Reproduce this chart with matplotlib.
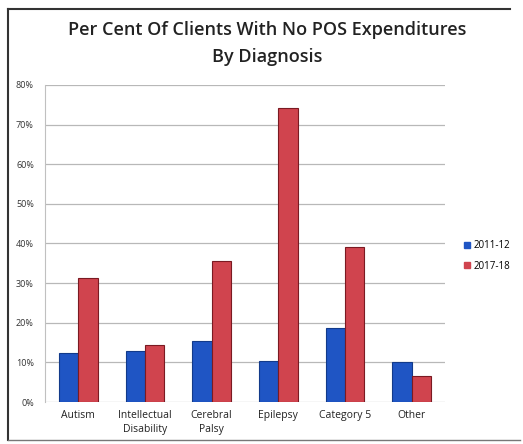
import numpy as np
import matplotlib
matplotlib.use('Agg')
import matplotlib.pyplot as plt
from matplotlib.ticker import PercentFormatter
from matplotlib.lines import Line2D

categories = ['Autism', 'Intellectual\nDisability', 'Cerebral\nPalsy', 'Epilepsy', 'Category 5', 'Other']
series_names = ['2011-12', '2017-18']
vals_2011 = [12.4, 12.9, 15.5, 10.4, 18.8, 10.0]
vals_2017 = [31.2, 14.3, 35.6, 74.3, 39.0, 6.6]
yticks = [0, 10, 20, 30, 40, 50, 60, 70, 80]

plt.rcParams['font.family'] = ['Open Sans', 'DejaVu Sans']

fig = plt.figure(figsize=(5.23, 4.44), dpi=100)
ax = fig.add_axes([45/523, 1 - 402/444, 400/523, 317/444])

x = np.arange(len(categories))
w = 0.29
blue = '#1f55c4'
red = '#d0444e'
ax.bar(x - w/2, vals_2011, w, color=blue, edgecolor='#123a8a', linewidth=0.8, zorder=3)
ax.bar(x + w/2, vals_2017, w, color=red, edgecolor='#7a1a22', linewidth=0.8, zorder=3)

ax.set_xlim(-0.5, 5.5)
ax.set_ylim(0, 80)
ax.set_yticks(yticks)
ax.yaxis.set_major_formatter(PercentFormatter(decimals=0))
ax.set_xticks(x)
ax.set_xticklabels(categories, fontsize=7.5, color='#222222', linespacing=1.3)
ax.tick_params(axis='y', labelsize=6.5, colors='#333333', length=0, pad=8)
ax.tick_params(axis='x', length=0, pad=6)
ax.yaxis.grid(True, color='#b8b8b8', linewidth=0.9, zorder=0)
ax.set_axisbelow(True)
for s in ['top', 'right', 'bottom']:
    ax.spines[s].set_visible(False)
ax.spines['left'].set_color('#c0c0c0')
ax.spines['left'].set_linewidth(0.8)

fig.text(0.51, 1 - 30/444, 'Per Cent Of Clients With No POS Expenditures', ha='center', va='center',
         fontsize=13, fontweight='semibold', color='#222222')
fig.text(0.51, 1 - 57/444, 'By Diagnosis', ha='center', va='center',
         fontsize=13, fontweight='semibold', color='#222222')

handles = [Line2D([], [], marker='s', linestyle='', color=blue, markersize=4.5),
           Line2D([], [], marker='s', linestyle='', color=red, markersize=4.5)]
fig.legend(handles, series_names, loc='center left', bbox_to_anchor=(452/523, 1 - 256/444),
           frameon=False, fontsize=7, handletextpad=0.1, handlelength=1.2, labelspacing=1.0)

# scanned frame around the chart
frame = dict(color='#333333', linewidth=1.5, transform=fig.transFigure)
fig.add_artist(Line2D([8/523, 8/523], [1 - 9/444, 1 - 440/444], **frame))
fig.add_artist(Line2D([8/523, 510/523], [1 - 9/444, 1 - 9/444], **frame))
fig.add_artist(Line2D([8/523, 520/523], [1 - 440/444, 1 - 440/444], color='#777777', linewidth=1, transform=fig.transFigure))

fig.savefig('out.png', dpi=100)
